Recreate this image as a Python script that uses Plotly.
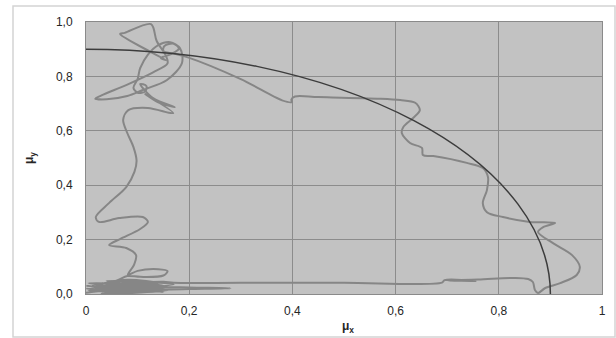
import plotly.graph_objects as go

# ---- data ----
RADIUS = 0.9  # reference circle radius

# trajectory segments (mu_x, mu_y)
blob_start_x = [0.000, 0.060, 0.010, 0.120, 0.030, 0.150, 0.005, 0.090, 0.020, 0.170, 0.040, 0.130,
                0.010, 0.110, 0.050, 0.160, 0.030, 0.080, 0.140, 0.020, 0.100, 0.000, 0.150, 0.030,
                0.120, 0.005, 0.200, 0.280, 0.200, 0.120, 0.060, 0.150, 0.170]
blob_start_y = [0.005, 0.020, 0.030, 0.010, 0.002, 0.025, 0.040, 0.015, 0.010, 0.035, 0.048, 0.020,
                0.015, 0.040, 0.005, 0.015, 0.035, 0.052, 0.040, 0.025, 0.005, 0.030, 0.008, 0.020,
                0.033, 0.012, 0.018, 0.021, 0.024, 0.028, 0.035, 0.045, 0.041]

bottom_x = [0.300, 0.500, 0.690, 0.695, 0.755, 0.700, 0.760, 0.830, 0.857, 0.866, 0.870, 0.876,
            0.890, 0.919, 0.951, 0.957, 0.942, 0.905, 0.876, 0.886, 0.909, 0.860, 0.808, 0.777,
            0.769, 0.777, 0.779, 0.769, 0.738, 0.673, 0.653, 0.651, 0.628, 0.612, 0.615, 0.634,
            0.647, 0.638, 0.609, 0.570, 0.450, 0.405, 0.398, 0.399]
bottom_y = [0.041, 0.041, 0.042, 0.051, 0.048, 0.050, 0.053, 0.059, 0.055, 0.044, 0.015, 0.004,
            0.022, 0.040, 0.070, 0.100, 0.143, 0.187, 0.228, 0.246, 0.261, 0.265, 0.283, 0.301,
            0.334, 0.382, 0.430, 0.463, 0.482, 0.507, 0.511, 0.537, 0.555, 0.592, 0.614, 0.647,
            0.676, 0.703, 0.713, 0.718, 0.724, 0.726, 0.715, 0.706]

tangle_x = [0.380, 0.300, 0.196, 0.170, 0.150, 0.152, 0.170, 0.180, 0.165, 0.145, 0.155, 0.066,
            0.075, 0.126, 0.137, 0.155, 0.158, 0.130, 0.080, 0.030, 0.018, 0.040, 0.080, 0.110,
            0.157, 0.186, 0.182, 0.163, 0.140, 0.120, 0.105, 0.100, 0.092, 0.100, 0.115, 0.117,
            0.105, 0.130, 0.172, 0.140, 0.115, 0.169, 0.120, 0.082, 0.072, 0.080, 0.092, 0.098,
            0.094]
tangle_y = [0.712, 0.790, 0.871, 0.884, 0.893, 0.912, 0.920, 0.902, 0.882, 0.868, 0.860, 0.956,
            0.960, 0.992, 0.930, 0.875, 0.848, 0.815, 0.770, 0.730, 0.718, 0.716, 0.728, 0.750,
            0.787, 0.849, 0.904, 0.926, 0.915, 0.880, 0.830, 0.790, 0.758, 0.740, 0.745, 0.765,
            0.772, 0.720, 0.687, 0.705, 0.735, 0.665, 0.684, 0.676, 0.640, 0.592, 0.540, 0.490,
            0.450]

left_x = [0.078, 0.045, 0.019, 0.025, 0.064, 0.110, 0.120, 0.105, 0.066, 0.045, 0.078, 0.097,
          0.093, 0.081, 0.100, 0.140, 0.158, 0.150, 0.105, 0.080]
left_y = [0.393, 0.335, 0.283, 0.265, 0.279, 0.283, 0.265, 0.239, 0.202, 0.180, 0.169, 0.143,
          0.107, 0.070, 0.085, 0.091, 0.084, 0.068, 0.063, 0.066]

blob_end_x = [0.060, 0.020, 0.110, 0.040, 0.150, 0.070, 0.010, 0.120, 0.050, 0.090, 0.000, 0.140,
              0.030, 0.100, 0.015]
blob_end_y = [0.050, 0.030, 0.020, 0.008, 0.030, 0.040, 0.012, 0.045, 0.025, 0.003, 0.020, 0.010,
              0.040, 0.030, 0.008]

traj_x = blob_start_x + bottom_x + tangle_x + left_x + blob_end_x
traj_y = blob_start_y + bottom_y + tangle_y + left_y + blob_end_y

x_tick_vals = [0, 0.2, 0.4, 0.6, 0.8, 1.0]
x_tick_text = ["0", "0,2", "0,4", "0,6", "0,8", "1"]
y_tick_vals = [0, 0.2, 0.4, 0.6, 0.8, 1.0]
y_tick_text = ["0,0", "0,2", "0,4", "0,6", "0,8", "1,0"]
x_title = "<b>μ<sub>x</sub></b>"
y_title = "<b>μ<sub>y</sub></b>"

# ---- figure ----
fig = go.Figure()
fig.add_trace(go.Scatter(
    x=traj_x, y=traj_y, mode="lines",
    line=dict(color="#868686", width=2, shape="spline", smoothing=0.9),
    hoverinfo="skip", showlegend=False,
))

fig.add_shape(type="circle", xref="x", yref="y",
              x0=-RADIUS, y0=-RADIUS, x1=RADIUS, y1=RADIUS,
              line=dict(color="#3c3c3c", width=1.5), layer="above")

W, H = 616, 338
L, R, T, B = 86, 14, 22, 44
pw, ph = W - L - R, H - T - B
# outer light frame of the chart
fig.add_shape(type="rect", xref="paper", yref="paper",
              x0=(13 - L) / pw, x1=(W - 1 - L) / pw,
              y0=(H - B - (H - 1)) / ph, y1=(H - B - 6) / ph,
              line=dict(color="#d4d4d4", width=1.5), layer="below")

font = dict(family="Liberation Sans, Arial", size=12, color="#262626")
fig.update_layout(
    width=W, height=H,
    margin=dict(l=L, r=R, t=T, b=B, autoexpand=False),
    paper_bgcolor="white", plot_bgcolor="#c2c2c2",
    font=font, showlegend=False,
)
fig.add_annotation(text=x_title, xref="paper", yref="paper",
                   x=(348 - L) / pw, y=(H - B - 327) / ph,
                   showarrow=False, xanchor="center", yanchor="middle")
fig.add_annotation(text=y_title, xref="paper", yref="paper",
                   x=(30 - L) / pw, y=0.5, textangle=-90,
                   showarrow=False, xanchor="center", yanchor="middle")
fig.update_xaxes(
    range=[0, 1], tickvals=x_tick_vals, ticktext=x_tick_text,
    showgrid=True, gridcolor="#8c8c8c", gridwidth=1,
    showline=True, linecolor="#8a8a8a", linewidth=1, mirror=True,
    zeroline=False, ticks="", ticklabelstandoff=6, automargin=False,
)
fig.update_yaxes(
    range=[0, 1], tickvals=y_tick_vals, ticktext=y_tick_text,
    showgrid=True, gridcolor="#8c8c8c", gridwidth=1,
    showline=True, linecolor="#8a8a8a", linewidth=1, mirror=True,
    zeroline=False, ticks="", ticklabelstandoff=10, automargin=False,
)

fig.write_html("out.html", config={"displayModeBar": False},
               post_script="document.body.style.margin='0';")
